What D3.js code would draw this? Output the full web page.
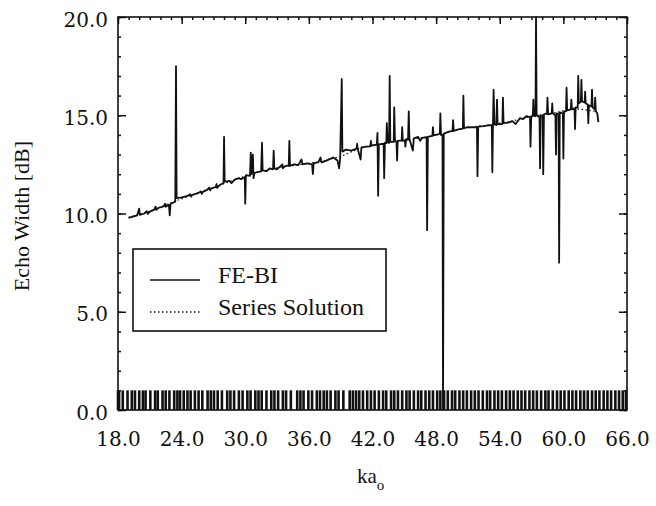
<!DOCTYPE html>
<html>
<head>
<meta charset="utf-8">
<script src="https://cdn.jsdelivr.net/npm/d3@7"></script>
<style>
  body { margin: 0; background: #fff; }
  svg { display: block; }
  .tick text { font-family: "DejaVu Serif", serif; font-size: 20px; fill: #111; }
  .label { font-family: "Liberation Serif", serif; fill: #111; }
</style>
</head>
<body>
<div id="chart_div"></div>
<script>
//tick values
var xTicks = [18, 24, 30, 36, 42, 48, 54, 60, 66];
var yTicks = [0, 5, 10, 15, 20];

//legend labels
var legendLabels = ["FE-BI", "Series Solution"];

//FE-BI curve [ka, dB] (spikes included)
var feBiData = [
  [19.0, 9.78], [19.4, 9.84], [19.8, 9.9], [20.0, 10.25], [20.05, 9.93], [20.5, 10.0],
  [20.7, 10.12], [20.8, 9.98], [21.0, 10.1], [21.4, 10.18], [21.55, 10.35], [21.6, 10.18],
  [21.8, 10.28], [22.3, 10.36], [22.45, 10.5], [22.5, 10.34], [22.8, 10.45], [22.88, 9.9],
  [22.95, 10.48], [23.4, 10.6], [23.47, 17.5], [23.53, 10.78], [24.0, 10.82], [24.5, 10.88],
  [24.8, 10.98], [24.9, 10.86], [25.0, 10.95], [25.5, 11.02], [25.8, 11.12], [25.9, 11.0],
  [26.0, 11.1], [26.4, 11.2], [26.6, 11.32], [26.7, 11.18], [26.8, 11.28], [27.2, 11.34],
  [27.3, 11.5], [27.35, 11.3], [27.6, 11.45], [27.95, 11.55], [28.0, 13.9], [28.06, 11.62],
  [28.5, 11.66], [28.7, 11.55], [29.0, 11.72], [29.4, 11.8], [29.6, 11.74], [29.95, 11.86],
  [30.0, 10.5], [30.06, 11.95], [30.45, 11.92],
  [30.52, 13.1], [30.58, 12.0], [30.72, 13.0], [30.78, 11.8], [30.85, 12.05], [31.1, 12.1],
  [31.5, 12.15], [31.58, 13.6], [31.64, 12.2], [32.0, 12.15], [32.3, 12.3], [32.62, 12.25],
  [32.68, 13.2], [32.74, 12.3], [33.0, 12.25], [33.2, 12.35], [33.5, 12.5], [33.55, 12.3],
  [33.7, 12.4], [34.1, 12.45], [34.16, 13.7],
  [34.22, 12.42], [34.6, 12.5], [35.0, 12.46], [35.3, 12.75], [35.4, 12.5], [35.8, 12.55],
  [36.3, 12.5], [36.38, 12.0], [36.45, 12.55], [36.9, 12.62], [37.1, 12.85], [37.2, 12.6],
  [37.6, 12.68], [38.0, 12.78], [38.3, 12.85], [38.7, 12.7], [38.85, 12.3], [38.95, 12.8],
  [39.1, 16.85], [39.16, 13.15], [39.5, 13.25], [40.0, 13.2], [40.5, 13.3], [40.55, 13.55],
  [40.6, 13.3], [40.88, 12.75], [40.95, 13.35], [41.4, 13.4], [41.8, 13.42], [41.85, 13.7],
  [41.9, 13.45], [42.4, 13.5], [42.47, 14.1], [42.53, 10.9], [42.6, 13.52], [43.05, 13.55],
  [43.1, 11.8], [43.17, 13.6], [43.3, 13.58], [43.35, 14.6], [43.42, 13.62], [43.56, 13.6],
  [43.62, 17.0], [43.68, 13.65], [44.0, 13.65], [44.05, 15.4], [44.12, 13.7], [44.26, 13.65],
  [44.32, 12.7], [44.38, 13.7], [44.75, 13.72], [44.8, 14.4], [44.86, 13.7], [45.05, 13.72],
  [45.1, 13.4], [45.17, 13.78], [45.35, 13.75], [45.42, 15.2], [45.48, 13.8], [45.8, 13.2],
  [45.9, 13.82], [46.3, 13.9], [46.5, 13.7], [46.7, 13.85], [47.1, 13.88], [47.15, 9.15], [47.22, 13.9],
  [47.65, 13.95], [47.7, 14.4], [47.76, 13.98], [48.35, 14.05], [48.4, 15.1], [48.46, 14.0],
  [48.6, 14.0], [48.65, 0.0], [48.72, 14.05], [49.1, 14.15], [49.55, 14.2], [49.6, 14.75],
  [49.66, 14.2], [50.1, 14.28], [50.52, 14.32], [50.57, 16.0], [50.63, 14.35], [51.0, 14.4],
  [51.4, 14.38], [51.85, 14.4], [51.9, 11.9], [51.97, 14.42], [52.5, 14.45], [53.0, 14.5],
  [53.25, 14.48], [53.3, 12.1], [53.36, 14.5], [53.42, 16.3], [53.5, 14.55], [53.68, 14.5],
  [53.74, 15.8], [53.8, 14.55], [54.25, 14.55], [54.3, 15.9], [54.36, 14.6], [54.8, 14.62],
  [55.2, 14.7], [55.5, 14.55], [55.9, 14.85], [56.2, 14.8], [56.5, 14.95], [56.85, 14.9],
  [56.9, 13.4], [56.97, 14.95], [57.12, 14.95], [57.17, 15.8], [57.23, 15.0], [57.37, 14.95],
  [57.42, 20.0], [57.48, 15.0], [57.75, 14.9], [57.8, 12.3], [57.86, 15.0], [58.05, 14.95],
  [58.1, 12.0], [58.17, 15.05], [58.45, 15.1], [58.5, 15.9], [58.56, 15.05], [58.9, 15.1],
  [58.95, 15.6], [59.0, 15.1], [59.25, 15.0], [59.3, 13.0], [59.36, 15.1], [59.55, 15.05],
  [59.6, 7.5], [59.66, 15.15], [59.95, 15.1], [60.0, 12.8], [60.06, 15.2], [60.25, 15.2],
  [60.3, 16.4], [60.36, 15.25], [60.7, 15.3], [60.75, 15.8], [60.81, 15.3], [61.05, 15.35],
  [61.1, 14.3], [61.16, 15.4], [61.35, 15.4], [61.4, 17.0], [61.46, 15.6], [61.65, 15.7],
  [61.7, 16.8], [61.76, 15.7], [62.0, 15.65], [62.05, 16.2], [62.11, 15.6], [62.3, 15.55],
  [62.35, 14.6], [62.41, 15.5], [62.65, 15.45], [62.7, 16.3], [62.76, 15.4], [62.95, 15.3],
  [63.0, 15.9], [63.06, 15.2], [63.2, 15.1], [63.3, 14.65]
];

//series solution (smooth, mostly hidden under FE-BI)
var seriesKa = [19, 21, 23, 25, 27, 29, 31, 33, 35, 37, 39, 41, 43, 45, 47, 49, 51, 53, 55, 57, 59, 61, 63];
var seriesDb = [9.8, 10.12, 10.55, 10.95, 11.32, 11.72, 12.08, 12.33, 12.48, 12.63, 12.9, 13.38, 13.55,
  13.73, 13.88, 14.12, 14.38, 14.5, 14.68, 14.95, 15.1, 15.35, 15.2];

//dense marks along the bottom of the plot (ka positions)
var bottomMarksKa = [18.0, 18.1, 18.45, 18.9, 19.3, 19.6, 20.0, 20.35, 20.6, 21.05, 21.5, 21.75, 22.2,
  22.5, 22.85, 23.3, 23.6, 23.85, 24.2, 24.55, 24.85, 25.25, 25.6, 25.95, 26.45, 26.75, 27.05, 27.4,
  27.8, 28.3, 28.6, 28.95, 29.4, 29.75, 30.2, 30.5, 30.95, 31.25, 31.55, 32.0, 32.45, 32.75, 33.1,
  33.55, 33.85, 34.3, 34.9, 35.2, 35.5, 35.95, 36.3, 36.75, 37.05, 37.4, 37.7, 38.05, 38.5, 38.8,
  39.25, 39.85, 40.15, 40.45, 40.75, 41.1, 41.5, 41.85, 42.2, 42.6, 43.0, 43.3, 43.75, 44.05, 44.4,
  44.8, 45.2, 45.5, 45.9, 46.3, 46.6, 47.0, 47.35, 47.7, 48.1, 48.4, 48.75, 49.1, 49.5, 49.8, 50.2,
  50.55, 50.9, 51.3, 51.65, 52.0, 52.4, 52.8, 53.1, 53.5, 53.85, 54.2, 54.6, 54.95, 55.3, 55.7,
  56.05, 56.4, 56.8, 57.15, 57.5, 57.9, 58.3, 58.6, 59.0, 59.4, 59.75, 60.1, 60.5, 60.85, 61.2,
  61.6, 61.95, 62.3, 62.7, 63.05, 63.4, 63.8, 64.15, 64.5, 64.9, 65.25, 65.6, 65.9];
var bottomMarkTop = 1.0;

/*----------------------
SETUP
----------------------*/
var width = 656, height = 506;
var margin = { left: 118, top: 17, right: 29, bottom: 96 };
var plotW = width - margin.left - margin.right;
var plotH = height - margin.top - margin.bottom;

var svg = d3.select("#chart_div").append("svg")
  .attr("width", width)
  .attr("height", height);

var x = d3.scaleLinear().domain([18, 66]).range([0, plotW]);
var y = d3.scaleLinear().domain([0, 20]).range([plotH, 0]);

var plot = svg.append("g")
  .attr("transform", `translate(${margin.left},${margin.top})`);

plot.append("clipPath").attr("id", "clip")
  .append("rect").attr("x", 0).attr("y", -1).attr("width", plotW).attr("height", plotH + 1);

/*----------------------
AXES (ticks point inward)
----------------------*/
function styleAxis(g) {
  g.select(".domain").remove();
  g.selectAll(".tick line").attr("stroke", "#111").attr("stroke-width", 1.5);
}

//minor ticks
plot.append("g").call(d3.axisLeft(y).tickValues(d3.range(0, 21, 1)).tickSize(-3).tickFormat("")).call(styleAxis);
plot.append("g").attr("transform", `translate(${plotW},0)`)
  .call(d3.axisRight(y).tickValues(d3.range(0, 21, 1)).tickSize(-3).tickFormat("")).call(styleAxis);
plot.append("g").call(d3.axisTop(x).tickValues(d3.range(18, 67, 1)).tickSize(-3).tickFormat("")).call(styleAxis);

//major ticks
plot.append("g")
  .call(d3.axisLeft(y).tickValues(yTicks).tickSize(-8).tickPadding(10).tickFormat(d3.format(".1f")))
  .call(styleAxis)
  .selectAll("text").attr("dy", "0.45em");
plot.append("g").attr("transform", `translate(${plotW},0)`)
  .call(d3.axisRight(y).tickValues(yTicks).tickSize(-8).tickFormat("")).call(styleAxis);
plot.append("g")
  .call(d3.axisTop(x).tickValues(xTicks).tickSize(-7).tickFormat("")).call(styleAxis);
plot.append("g").attr("transform", `translate(0,${plotH})`)
  .call(d3.axisBottom(x).tickValues(xTicks).tickSize(0).tickPadding(22).tickFormat(d3.format(".1f")))
  .call(styleAxis);

//frame
plot.append("rect")
  .attr("width", plotW).attr("height", plotH)
  .attr("fill", "none").attr("stroke", "#111").attr("stroke-width", 1.6);

/*----------------------
BOTTOM MARKS
----------------------*/
plot.append("g").selectAll("line")
  .data(bottomMarksKa)
  .join("line")
  .attr("x1", d => x(d)).attr("x2", d => x(d))
  .attr("y1", y(0)).attr("y2", y(bottomMarkTop))
  .attr("stroke", "#111").attr("stroke-width", 2.6);

/*----------------------
CURVES
----------------------*/
var curves = plot.append("g").attr("clip-path", "url(#clip)");

curves.append("path")
  .datum(seriesKa.map((k, i) => [k, seriesDb[i]]))
  .attr("fill", "none").attr("stroke", "#111").attr("stroke-width", 1.2)
  .attr("stroke-dasharray", "1.5,2.5")
  .attr("d", d3.line().x(d => x(d[0])).y(d => y(d[1])));

curves.append("path")
  .datum(feBiData)
  .attr("fill", "none").attr("stroke", "#111").attr("stroke-width", 1.8)
  .attr("stroke-linejoin", "round")
  .attr("d", d3.line().x(d => x(d[0])).y(d => y(d[1])));

/*----------------------
LEGEND
----------------------*/
var legend = svg.append("g").attr("transform", "translate(133,249)");
legend.append("rect")
  .attr("width", 253).attr("height", 82)
  .attr("fill", "#fff").attr("stroke", "#111").attr("stroke-width", 1.6);

legendLabels.forEach(function (lab, i) {
  var ly = 31 + i * 32;
  legend.append("line")
    .attr("x1", 17).attr("x2", 67).attr("y1", ly).attr("y2", ly)
    .attr("stroke", "#111").attr("stroke-width", i == 0 ? 1.6 : 1.3)
    .attr("stroke-dasharray", i == 0 ? null : "1.5,2.5");
  legend.append("text")
    .attr("class", "label")
    .attr("x", 85).attr("y", ly + 3)
    .style("font-size", "24px")
    .text(lab);
});

/*----------------------
TITLES
----------------------*/
svg.append("text")
  .attr("class", "label")
  .attr("transform", "translate(29,216) rotate(-90)")
  .attr("text-anchor", "middle")
  .style("font-size", "22px")
  .text("Echo Width [dB]");

var xt = svg.append("text")
  .attr("class", "label")
  .attr("x", 357).attr("y", 483)
  .style("font-size", "21px")
  .text("ka");
xt.append("tspan").attr("dy", 7).style("font-size", "15px").text("o");
</script>
</body>
</html>
